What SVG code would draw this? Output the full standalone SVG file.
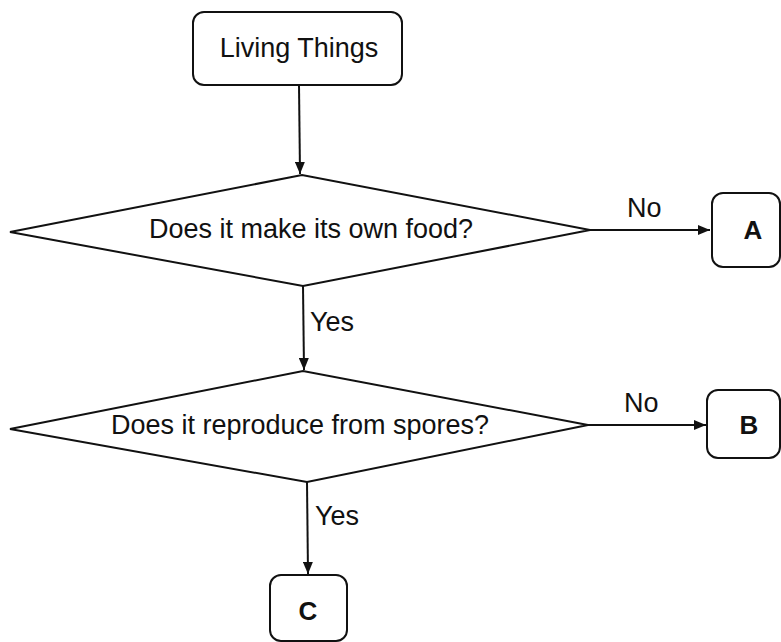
<svg xmlns="http://www.w3.org/2000/svg" width="781" height="642" viewBox="0 0 781 642">
<style>
  .shape { fill: #ffffff; stroke: #111111; stroke-width: 2; }
  .edge { fill: none; stroke: #111111; stroke-width: 2; }
  .t { font-family: "Liberation Sans", Arial, sans-serif; font-size: 27px; fill: #111111; }
  .c { text-anchor: middle; }
  .b { font-weight: bold; font-size: 26px; }
</style>
<defs>
  <marker id="arr" viewBox="0 0 12 10" refX="12" refY="5" markerWidth="12" markerHeight="10" markerUnits="userSpaceOnUse" orient="auto">
    <path d="M0,0 L12,5 L0,10 z" fill="#111111"/>
  </marker>
</defs>
<rect width="781" height="642" fill="#ffffff"/>

<g id="connectors">
  <line class="edge" x1="299" y1="85" x2="300" y2="174" marker-end="url(#arr)"/>
  <line class="edge" x1="590" y1="230" x2="710" y2="230" marker-end="url(#arr)"/>
  <line class="edge" x1="303" y1="286" x2="304" y2="370" marker-end="url(#arr)"/>
  <line class="edge" x1="588" y1="425" x2="706" y2="425" marker-end="url(#arr)"/>
  <line class="edge" x1="307" y1="482" x2="308" y2="574" marker-end="url(#arr)"/>
  <text class="t" x="627" y="217">No</text>
  <text class="t" x="624" y="412">No</text>
  <text class="t" x="310" y="331">Yes</text>
  <text class="t" x="315" y="525">Yes</text>
</g>

<g id="living-things">
  <rect class="shape" x="193" y="12" width="209" height="73" rx="11"/>
  <text class="t c" x="299" y="57">Living Things</text>
</g>

<g id="decision-food">
  <polygon class="shape" points="10,232 302,175 590,230 303,286"/>
  <text class="t c" x="311" y="238">Does it make its own food?</text>
</g>

<g id="node-a">
  <rect class="shape" x="712" y="193" width="68" height="74" rx="11"/>
  <text class="t c b" x="753" y="239">A</text>
</g>

<g id="decision-spores">
  <polygon class="shape" points="10,429 303,371 588,425 307,482"/>
  <text class="t c" x="300" y="434">Does it reproduce from spores?</text>
</g>

<g id="node-b">
  <rect class="shape" x="707" y="390" width="73" height="68" rx="11"/>
  <text class="t c b" x="749" y="434">B</text>
</g>

<g id="node-c">
  <rect class="shape" x="270" y="575" width="77" height="66" rx="11"/>
  <text class="t c b" x="308" y="620">C</text>
</g>
</svg>
